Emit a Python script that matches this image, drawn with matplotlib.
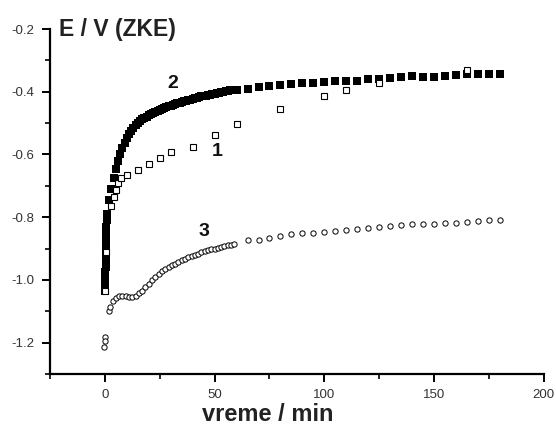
import matplotlib
matplotlib.use("Agg")
import matplotlib.pyplot as plt
from matplotlib.ticker import MultipleLocator

plt.rcParams['font.family'] = ['Liberation Sans', 'DejaVu Sans']

# curve 2 (filled squares)
t2 = [0, 0, 0.2, 0.2, 0.3, 0.3, 0.4, 0.5, 0.5, 0.6, 0.7, 0.8, 1,
      2, 3, 4, 5, 6, 7, 8, 9, 10, 11, 12, 13, 14, 15, 16, 17, 18, 19, 20,
      21, 22, 23, 24, 25, 26, 27, 28, 29, 30, 31, 32, 33, 34, 35, 36, 37, 38, 39, 40,
      41, 42, 43, 44, 45, 46, 47, 48, 49, 50, 51, 52, 53, 54, 55, 56, 57, 58, 60,
      65, 70, 75, 80, 85, 90, 95, 100, 105, 110, 115, 120, 125, 130, 135, 140,
      145, 150, 155, 160, 165, 170, 175, 180]
E2 = [-1.035, -1.02, -1.0, -0.975, -0.96, -0.94, -0.92, -0.9, -0.875, -0.85, -0.83, -0.81, -0.79,
      -0.745, -0.71, -0.675, -0.645, -0.62, -0.6, -0.58, -0.562, -0.548, -0.535, -0.525, -0.515,
      -0.507, -0.5, -0.494, -0.488, -0.484, -0.479, -0.475,
      -0.471, -0.467, -0.464, -0.461, -0.458, -0.455, -0.452, -0.449, -0.447, -0.444,
      -0.442, -0.44, -0.437, -0.435, -0.433, -0.431, -0.429, -0.427, -0.425, -0.423,
      -0.421, -0.419, -0.417, -0.415, -0.414, -0.412, -0.41, -0.409, -0.407, -0.406,
      -0.404, -0.403, -0.401, -0.4, -0.399, -0.397, -0.396, -0.395, -0.394,
      -0.391, -0.386, -0.382, -0.378, -0.375, -0.372, -0.371, -0.369, -0.367, -0.365,
      -0.365, -0.36, -0.358, -0.357, -0.353, -0.351, -0.352, -0.352, -0.35, -0.347,
      -0.345, -0.345, -0.345, -0.343]

# curve 1 (open squares)
t1 = [0, 0.3, 3, 4, 5, 6, 7.5, 10, 15, 20, 25, 30, 40, 50, 60, 80, 100, 110, 125, 165]
E1 = [-1.035, -0.91, -0.765, -0.735, -0.712, -0.692, -0.676, -0.667, -0.65, -0.631,
      -0.612, -0.593, -0.576, -0.538, -0.503, -0.454, -0.414, -0.393, -0.372, -0.331]

# curve 3 (open circles)
t3 = [0, 0, -0.3, 2, 2.5, 3.5, 5, 6.5, 8, 9.5, 11, 12.5, 14, 15.5, 17, 18.5, 20, 21.5,
      23, 24.5, 26, 27.5, 29, 30.5, 32, 33.5, 35, 36.5, 38, 39.5, 41, 42.5, 44, 45.5,
      47, 48.5, 50, 51.5, 53, 54.5, 56, 57.5, 59,
      65, 70, 75, 80, 85, 90, 95, 100, 105, 110, 115, 120, 125, 130, 135, 140,
      145, 150, 155, 160, 165, 170, 175, 180]
E3 = [-1.182, -1.195, -1.215, -1.1, -1.085, -1.068, -1.058, -1.052, -1.051, -1.052,
      -1.053, -1.053, -1.05, -1.043, -1.034, -1.024, -1.012, -1.0,
      -0.99, -0.981, -0.973, -0.966, -0.96, -0.954, -0.948, -0.942, -0.937, -0.932,
      -0.928, -0.924, -0.92, -0.916, -0.912, -0.909, -0.906, -0.903, -0.9, -0.897,
      -0.894, -0.892, -0.89, -0.888, -0.886,
      -0.874, -0.872, -0.865, -0.859, -0.855, -0.851, -0.851, -0.848, -0.843, -0.84,
      -0.838, -0.834, -0.83, -0.827, -0.824, -0.823, -0.822, -0.822, -0.819, -0.817,
      -0.815, -0.813, -0.809, -0.808]

labels = ["1", "2", "3"]
label_pos = [(51, -0.59), (31, -0.375), (45, -0.845)]

fig = plt.figure(figsize=(5.56, 4.37), dpi=100)
ax = fig.add_axes([0.09, 0.1442, 0.888, 0.7894])

ax.plot(t2, E2, 's', color='black', ms=5.5, mew=0, zorder=2)
ax.plot(t1, E1, 's', mfc='white', mec='black', ms=3.8, mew=0.8, zorder=3)
ax.plot(t3, E3, 'o', mfc='white', mec='black', ms=3.8, mew=0.7, zorder=3)

for lab, (x, y) in zip(labels, label_pos):
    ax.text(x, y, lab, fontsize=14, fontweight='bold', ha='center', va='center', color='#111')

ax.set_xlim(-25, 200)
ax.set_ylim(-1.3, -0.2)
ax.xaxis.set_major_locator(MultipleLocator(50))
ax.xaxis.set_minor_locator(MultipleLocator(25))
ax.yaxis.set_minor_locator(MultipleLocator(0.1))
ax.set_yticks([-1.2, -1.0, -0.8, -0.6, -0.4, -0.2])
ax.set_yticklabels(["-1.2", "-1.0", "-0.8", "-0.6", "-0.4", "-0.2"])

for s in ['top', 'right']:
    ax.spines[s].set_visible(False)
for s in ['left', 'bottom']:
    ax.spines[s].set_linewidth(1.6)

ax.tick_params(which='major', length=5.5, width=1.4, labelsize=9.5, colors='black',
               labelcolor='#333')
ax.tick_params(axis='y', which='major', pad=6)
ax.tick_params(axis='x', which='major', pad=5)
ax.tick_params(which='minor', length=3.5, width=1.2)

fig.text(0.106, 0.9336, "E / V (ZKE)", fontsize=16.5, fontweight='bold', ha='left', va='center', color='#222')
fig.text(0.482, 0.052, "vreme / min", fontsize=17, fontweight='bold', ha='center', va='center', color='#222')

fig.savefig("out.png", dpi=100)
